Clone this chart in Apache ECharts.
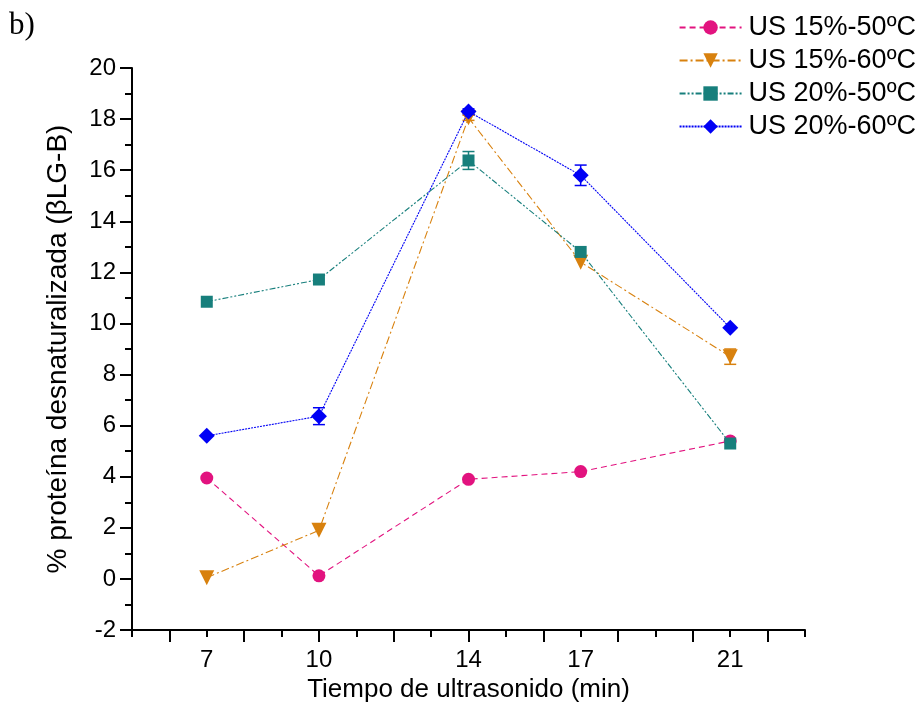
<!DOCTYPE html>
<html>
<head>
<meta charset="utf-8">
<script src="https://cdn.jsdelivr.net/npm/echarts@6/dist/echarts.min.js"></script>
<style>
html,body{margin:0;padding:0;background:#fff;}
#chart{width:923px;height:717px;}
</style>
</head>
<body>
<div id="chart"></div>
<script>
// ---- data ----
const times = [7, 10, 14, 17, 21];
const seriesNames = ['US 15%-50ºC', 'US 15%-60ºC', 'US 20%-50ºC', 'US 20%-60ºC'];
const us15_50 = [3.95, 0.12, 3.9, 4.2, 5.4];
const us15_60 = [0.05, 1.9, 18.05, 12.4, 8.7];
const us20_50 = [10.85, 11.72, 16.38, 12.8, 5.3];
const us20_60 = [5.6, 6.37, 18.3, 15.8, 9.83];
const err15_50 = [0, 0, 0, 0, 0];
const err15_60 = [0, 0, 0.1, 0, 0.3];
const err20_50 = [0, 0, 0.35, 0, 0];
const err20_60 = [0, 0.33, 0.1, 0.4, 0];
const xLabelTicks = [7, 10, 14, 17, 21];
const xMajorTicks = [6, 8, 10, 12, 14, 16, 18, 20, 22];
const xMinorTicks = [5, 7, 9, 11, 13, 15, 17, 19, 21, 23];
const yTicks = [-2, 0, 2, 4, 6, 8, 10, 12, 14, 16, 18, 20];

const colors = ['#E2137F', '#D8810E', '#177F7C', '#0000F5'];
const values = [us15_50, us15_60, us20_50, us20_60];
const errs = [err15_50, err15_60, err20_50, err20_60];
const symbols = ['circle', 'triangle', 'rect', 'diamond'];
const symbolSizes = [13, 15, 12, 16];
const rotations = [0, 180, 0, 0];
const dashes = [[6, 4], [8, 3, 2, 3], [6, 2, 2, 2, 2, 2], [2, 1]];

const chart = echarts.init(document.getElementById('chart'), null, {renderer: 'canvas'});
const FONT = 'Liberation Sans, Arial, sans-serif';

const series = [];
values.forEach((vals, i) => {
  series.push({
    name: seriesNames[i],
    type: 'line',
    data: times.map((t, k) => [t, vals[k]]),
    symbol: symbols[i],
    symbolSize: symbolSizes[i],
    symbolRotate: rotations[i],
    lineStyle: {color: colors[i], width: 1.1, type: dashes[i]},
    itemStyle: {color: colors[i]},
    z: 3 + i,
    animation: false
  });
  series.push({
    name: seriesNames[i],
    type: 'custom',
    data: times.map((t, k) => [t, vals[k], errs[i][k]]).filter(d => d[2] > 0),
    renderItem: function (params, api) {
      const x = api.value(0), y = api.value(1), e = api.value(2);
      const top = api.coord([x, y + e]);
      const bot = api.coord([x, y - e]);
      const hw = 6;
      const st = {stroke: colors[i], lineWidth: 1.5};
      return {
        type: 'group',
        children: [
          {type: 'line', shape: {x1: top[0], y1: top[1], x2: bot[0], y2: bot[1]}, style: st},
          {type: 'line', shape: {x1: top[0] - hw, y1: top[1], x2: top[0] + hw, y2: top[1]}, style: st},
          {type: 'line', shape: {x1: bot[0] - hw, y1: bot[1], x2: bot[0] + hw, y2: bot[1]}, style: st}
        ]
      };
    },
    z: 2,
    animation: false
  });
});

chart.setOption({
  backgroundColor: '#fff',
  animation: false,
  graphic: [{
    type: 'text', left: 9, top: 10,
    style: {text: 'b)', font: '31px "Liberation Serif", "Times New Roman", serif', fill: '#000'}
  }],
  legend: {
    data: seriesNames.map((n, i) => ({name: n})),
    orient: 'vertical',
    right: 2,
    top: 9,
    itemWidth: 62,
    itemHeight: 18,
    itemGap: 6,
    textStyle: {fontFamily: FONT, fontSize: 27, color: '#000', padding: [0, 0, 0, 2]},
    selectedMode: false
  },
  grid: {left: 132, right: 118, top: 68, bottom: 87, containLabel: false},
  xAxis: [{
    type: 'value', min: 5, max: 23, interval: 1,
    name: 'Tiempo de ultrasonido (min)', nameLocation: 'middle', nameGap: 47,
    nameTextStyle: {fontFamily: FONT, fontSize: 26, color: '#000'},
    axisLine: {show: true, onZero: false, lineStyle: {color: '#000', width: 2}},
    axisTick: {show: true, length: 12, lineStyle: {color: '#000', width: 2}, customValues: xMajorTicks},
    axisLabel: {show: true, customValues: xLabelTicks, fontFamily: FONT, fontSize: 24, color: '#000', margin: 18},
    splitLine: {show: false}
  }, {
    type: 'value', min: 5, max: 23, interval: 1, position: 'bottom', gridIndex: 0,
    axisLine: {show: false, onZero: false},
    axisTick: {show: true, length: 7, lineStyle: {color: '#000', width: 2}, customValues: xMinorTicks},
    axisLabel: {show: false},
    splitLine: {show: false}
  }],
  yAxis: {
    type: 'value', min: -2, max: 20, interval: 2,
    name: '% proteína desnaturalizada (βLG-B)', nameLocation: 'middle', nameGap: 60,
    nameTextStyle: {fontFamily: FONT, fontSize: 28, color: '#000'},
    axisLine: {show: true, onZero: false, lineStyle: {color: '#000', width: 2}},
    axisTick: {show: true, length: 12, lineStyle: {color: '#000', width: 2}},
    minorTick: {show: true, splitNumber: 2, length: 7, lineStyle: {color: '#000', width: 2}},
    axisLabel: {fontFamily: FONT, fontSize: 24, color: '#000', margin: 16,
      customValues: yTicks},
    splitLine: {show: false},
    minorSplitLine: {show: false}
  },
  series: series
});
</script>
</body>
</html>
